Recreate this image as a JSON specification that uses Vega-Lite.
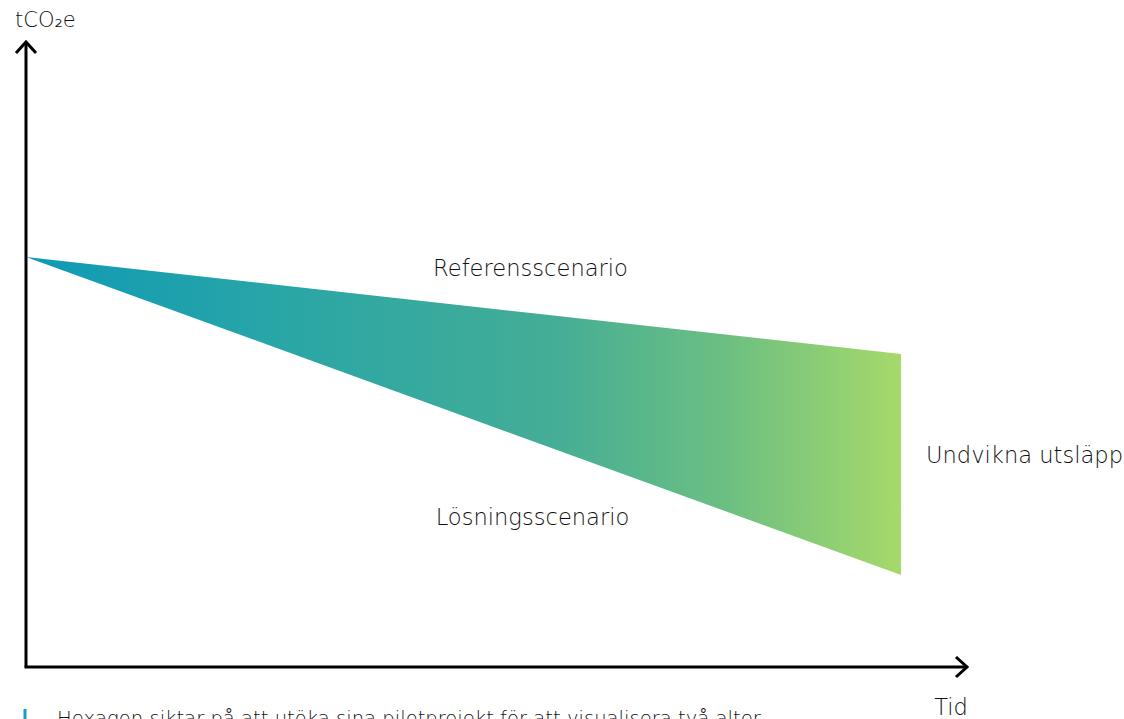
{
  "$schema": "https://vega.github.io/schema/vega-lite/v6.json",
  "width": 1124,
  "height": 719,
  "autosize": {"type": "none"},
  "padding": 0,
  "background": "white",
  "config": {"view": {"stroke": null}},
  "datasets": {
    "scenario": [
      {"tid": 2.6, "referens": 46.2, "losning": 46.2},
      {"tid": 90.1, "referens": 36.5, "losning": 14.4}
    ],
    "axes": [
      {"seg": "y", "ord": 1, "tid": 2.6, "v": 5.2},
      {"seg": "y", "ord": 2, "tid": 2.6, "v": 67.7},
      {"seg": "yh", "ord": 1, "tid": 1.6, "v": 66.6},
      {"seg": "yh", "ord": 2, "tid": 2.6, "v": 67.7},
      {"seg": "yh", "ord": 3, "tid": 3.6, "v": 66.6},
      {"seg": "x", "ord": 1, "tid": 2.45, "v": 5.2},
      {"seg": "x", "ord": 2, "tid": 96.6, "v": 5.2},
      {"seg": "xh", "ord": 1, "tid": 95.6, "v": 6.2},
      {"seg": "xh", "ord": 2, "tid": 96.7, "v": 5.2},
      {"seg": "xh", "ord": 3, "tid": 95.6, "v": 4.2}
    ],
    "labels": [
      {"tid": 53.05, "v": 45.0, "text": "Referensscenario"},
      {"tid": 53.25, "v": 20.1, "text": "Lösningsscenario"},
      {"tid": 102.45, "v": 26.3, "text": "Undvikna utsläpp"},
      {"tid": 95.1, "v": 1.1, "text": "Tid"}
    ]
  },
  "layer": [
    {
      "data": {"name": "scenario"},
      "mark": {
        "type": "area",
        "fill": {
          "gradient": "linear",
          "x1": 0, "y1": 0, "x2": 1, "y2": 0,
          "stops": [
            {"offset": 0, "color": "#0e9ab6"},
            {"offset": 0.3, "color": "#2aa6a6"},
            {"offset": 0.6, "color": "#44ad96"},
            {"offset": 0.8, "color": "#6cbf82"},
            {"offset": 1, "color": "#a6d96a"}
          ]
        }
      },
      "encoding": {
        "x": {"field": "tid", "type": "quantitative", "scale": {"domain": [0, 112.4], "nice": false, "zero": false}, "axis": null},
        "y": {"field": "referens", "type": "quantitative", "scale": {"domain": [0, 71.9], "nice": false, "zero": false}, "axis": null},
        "y2": {"field": "losning"}
      }
    },
    {
      "data": {"name": "axes"},
      "mark": {"type": "line", "color": "#000000", "strokeWidth": 3, "strokeCap": "butt", "strokeJoin": "miter", "clip": false},
      "encoding": {
        "x": {"field": "tid", "type": "quantitative"},
        "y": {"field": "v", "type": "quantitative"},
        "detail": {"field": "seg"},
        "order": {"field": "ord"}
      }
    },
    {
      "data": {"values": [{"tid": 2.5, "v": 1.0, "v2": -0.5}]},
      "mark": {"type": "rule", "color": "#1a9bc4", "strokeWidth": 3, "clip": false},
      "encoding": {
        "x": {"field": "tid", "type": "quantitative"},
        "y": {"field": "v", "type": "quantitative"},
        "y2": {"field": "v2"}
      }
    },
    {
      "data": {"values": [{"tid": 5.7, "v": -0.6, "text": "Hexagon siktar på att utöka sina pilotprojekt för att visualisera två alter-"}]},
      "mark": {"type": "text", "align": "left", "baseline": "alphabetic", "font": "DejaVu Sans", "fontWeight": 200, "fontSize": 19.6, "color": "#111111", "clip": false},
      "encoding": {
        "x": {"field": "tid", "type": "quantitative"},
        "y": {"field": "v", "type": "quantitative"},
        "text": {"field": "text"}
      }
    },
    {
      "data": {"values": [{"tid": 1.5, "v": 69.2, "text": "tCO₂e"}]},
      "mark": {"type": "text", "align": "left", "baseline": "alphabetic", "font": "DejaVu Sans", "fontWeight": 200, "fontSize": 21, "color": "#111111"},
      "encoding": {
        "x": {"field": "tid", "type": "quantitative"},
        "y": {"field": "v", "type": "quantitative"},
        "text": {"field": "text"}
      }
    },
    {
      "data": {"name": "labels"},
      "mark": {"type": "text", "align": "center", "baseline": "middle", "font": "DejaVu Sans", "fontWeight": 200, "fontSize": 22.6, "color": "#111111"},
      "encoding": {
        "x": {"field": "tid", "type": "quantitative"},
        "y": {"field": "v", "type": "quantitative"},
        "text": {"field": "text"}
      }
    }
  ]
}
